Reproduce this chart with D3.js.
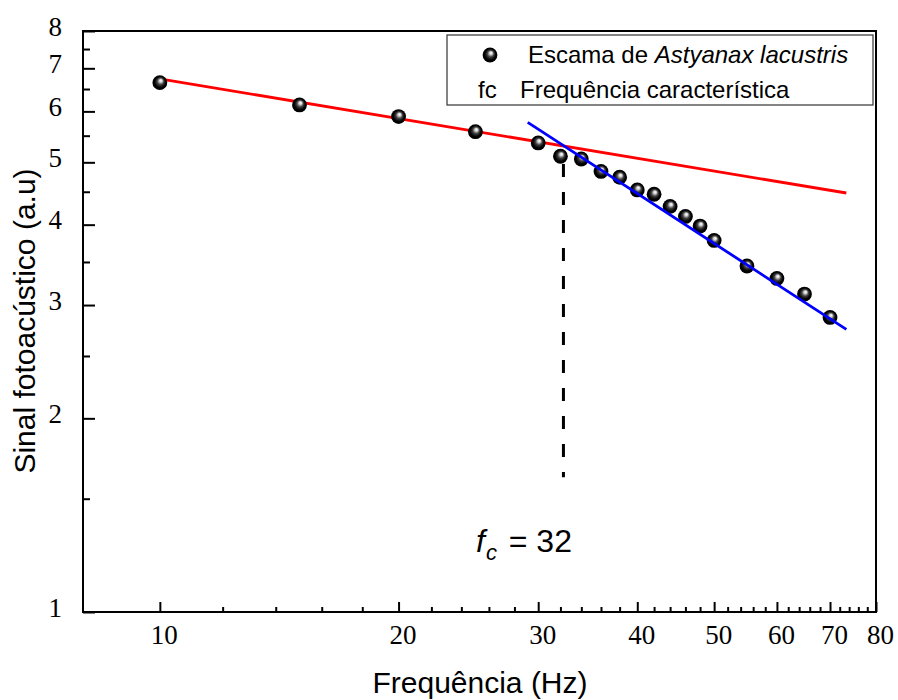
<!DOCTYPE html>
<html>
<head>
<meta charset="utf-8">
<script src="https://cdn.jsdelivr.net/npm/d3@7"></script>
<style>
  body { margin: 0; background: #fff; }
  svg { display: block; }
  .tick text { font-family: 'Liberation Serif', 'Times New Roman', serif; font-size: 27px; fill: #000; }
  .tick line { stroke: #000; stroke-width: 2px; }
  .title { font-family: 'Liberation Sans', Arial, sans-serif; font-size: 30px; fill: #000; }
  .legend text { font-family: 'Liberation Sans', Arial, sans-serif; font-size: 24px; fill: #000; }
</style>
</head>
<body>
<svg width="898" height="700"></svg>
<script>
// Measured points (frequency in Hz, photoacoustic signal in a.u.):
var frequency = [10, 15, 20, 25, 30, 32, 34, 36, 38, 40, 42, 44, 46, 48, 50, 55, 60, 65, 70];
var signal = [6.65, 6.14, 5.89, 5.58, 5.36, 5.11, 5.06, 4.84, 4.74, 4.53, 4.46, 4.27, 4.12, 3.98, 3.78, 3.45, 3.30, 3.12, 2.87];

// Fitted lines, given by their end points:
var redFit = [[10, 6.74], [73.4, 4.48]];
var blueFit = [[29.1, 5.77], [73.4, 2.75]];

// Characteristic frequency marker:
var fc = 32;
var fcLine = [[fc, 4.97], [fc, 1.62]];

// Tick values:
var xMajor = [10, 20, 30, 40, 50, 60, 70, 80];
var xMinor = [12, 14, 16, 18, 22, 24, 26, 28, 32, 34, 36, 38, 42, 44, 46, 48,
  52, 54, 56, 58, 62, 64, 66, 68, 72, 74, 76, 78];
var yMajor = [1, 2, 3, 4, 5, 6, 7, 8];
var yMinor = [1.5, 2.5, 3.5, 4.5, 5.5, 6.5, 7.5];

var svg = d3.select('svg');

// Plot area:
var margin = { left: 83, right: 876, top: 31, bottom: 612 };

var x = d3.scaleLog().domain([8, 80]).range([margin.left, margin.right]);
var y = d3.scaleLog().domain([1, 8]).range([margin.bottom, margin.top]);

// Gradient for the sphere markers:
var grad = svg.append('defs')
  .append('radialGradient')
  .attr('id', 'ball')
  .attr('cx', '50%').attr('cy', '50%').attr('r', '50%')
  .attr('fx', '58%').attr('fy', '34%');
grad.append('stop').attr('offset', '0%').attr('stop-color', '#ffffff');
grad.append('stop').attr('offset', '18%').attr('stop-color', '#d8d8d8');
grad.append('stop').attr('offset', '45%').attr('stop-color', '#404040');
grad.append('stop').attr('offset', '75%').attr('stop-color', '#000000');
grad.append('stop').attr('offset', '100%').attr('stop-color', '#000000');

// X axis, major and minor ticks (pointing inward):
svg.append('g')
  .attr('class', 'axis axis-x')
  .attr('transform', 'translate(0,' + margin.bottom + ')')
  .call(d3.axisBottom(x).tickValues(xMajor).tickSize(-10).tickPadding(13).tickFormat(d3.format('d')))
  .call(function (g) { g.select('.domain').remove(); })
  .selectAll('text')
  .attr('dx', 4);

svg.append('g')
  .attr('class', 'axis axis-x-minor')
  .attr('transform', 'translate(0,' + margin.bottom + ')')
  .call(d3.axisBottom(x).tickValues(xMinor).tickSize(-5).tickFormat(''))
  .call(function (g) { g.select('.domain').remove(); });

// Y axis, major and minor ticks:
svg.append('g')
  .attr('class', 'axis axis-y')
  .attr('transform', 'translate(' + margin.left + ',0)')
  .call(d3.axisLeft(y).tickValues(yMajor).tickSize(-12).tickPadding(21).tickFormat(d3.format('d')))
  .call(function (g) { g.select('.domain').remove(); })
  .selectAll('text')
  .attr('dy', '0.15em');

svg.append('g')
  .attr('class', 'axis axis-y-minor')
  .attr('transform', 'translate(' + margin.left + ',0)')
  .call(d3.axisLeft(y).tickValues(yMinor).tickSize(-7).tickFormat(''))
  .call(function (g) { g.select('.domain').remove(); });

// Frame:
svg.append('rect')
  .attr('x', margin.left)
  .attr('y', margin.top)
  .attr('width', margin.right - margin.left)
  .attr('height', margin.bottom - margin.top)
  .attr('fill', 'none')
  .attr('stroke', '#000')
  .attr('stroke-width', 2);

var line = d3.line()
  .x(function (d) { return x(d[0]); })
  .y(function (d) { return y(d[1]); });

// Red fit line:
svg.append('path')
  .attr('d', line(redFit))
  .attr('stroke', '#ff0000')
  .attr('stroke-width', 2.8)
  .attr('fill', 'none');

// Dashed line at fc:
svg.append('path')
  .attr('d', line(fcLine))
  .attr('transform', 'translate(3,0)')
  .attr('stroke', '#000')
  .attr('stroke-width', 3)
  .attr('stroke-dasharray', '13,15')
  .attr('fill', 'none');

// Data points:
var points = frequency.map(function (f, i) { return [f, signal[i]]; });

svg.append('g')
  .selectAll('circle')
  .data(points)
  .enter()
  .append('circle')
  .attr('cx', function (d) { return x(d[0]); })
  .attr('cy', function (d) { return y(d[1]); })
  .attr('r', 7.4)
  .attr('fill', 'url(#ball)');

// Blue fit line:
svg.append('path')
  .attr('d', line(blueFit))
  .attr('stroke', '#0000ff')
  .attr('stroke-width', 2.8)
  .attr('fill', 'none');

// Annotation:
var note = svg.append('text')
  .attr('class', 'title')
  .attr('x', 476)
  .attr('y', 552)
  .style('font-size', '32px');
note.append('tspan').style('font-style', 'italic').text('f');
note.append('tspan').style('font-style', 'italic').style('font-size', '22px').attr('dy', 8).attr('dx', 1).text('c');
note.append('tspan').attr('dy', -8).attr('dx', 3).text(' = ' + fc);

// Legend:
var legend = svg.append('g').attr('class', 'legend');

legend.append('rect')
  .attr('x', 447)
  .attr('y', 35)
  .attr('width', 426)
  .attr('height', 70)
  .attr('fill', '#fff')
  .attr('stroke', '#333')
  .attr('stroke-width', 1.2);

legend.append('circle')
  .attr('cx', 490)
  .attr('cy', 55)
  .attr('r', 7.4)
  .attr('fill', 'url(#ball)');

var entry = legend.append('text').attr('x', 528).attr('y', 63);
entry.append('tspan').text('Escama de ');
entry.append('tspan').style('font-style', 'italic').text('Astyanax lacustris');

legend.append('text').attr('x', 478).attr('y', 98).text('fc');
legend.append('text').attr('x', 520).attr('y', 98).text('Frequência característica');

// Axis titles:
svg.append('text')
  .attr('class', 'title')
  .attr('x', 480)
  .attr('y', 693)
  .attr('text-anchor', 'middle')
  .text('Frequência (Hz)');

svg.append('text')
  .attr('class', 'title')
  .attr('transform', 'translate(35,321) rotate(-90)')
  .attr('text-anchor', 'middle')
  .text('Sinal fotoacústico (a.u)');
</script>
</body>
</html>
